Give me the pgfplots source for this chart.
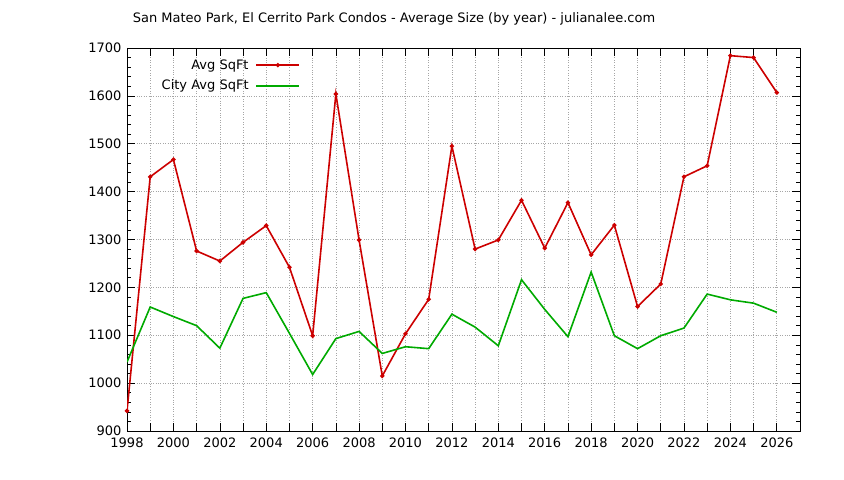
\documentclass[border=0pt]{standalone}
\usepackage{pgfplots}
\pgfplotsset{compat=1.18}
\usepackage{fontspec}
\setmainfont{DejaVu Sans}
\definecolor{cred}{RGB}{204,0,0}
\definecolor{cgreen}{RGB}{0,170,0}
\begin{document}
\fontsize{13bp}{15bp}\selectfont
\begin{tikzpicture}
\path[use as bounding box] (-127bp,-49bp) rectangle (717bp,431bp);
\begin{axis}[
  scale only axis, width=673bp, height=383bp,
  anchor=south west, at={(0,0)},
  xmin=1998, xmax=2027, ymin=900, ymax=1700,
  xtick={1998,2000,...,2026}, minor xtick={1999,2001,...,2025},
  ytick={900,1000,...,1700}, minor y tick num=4,
  tick align=inside, axis line style={line width=0.8bp},
  major tick length=8bp, minor tick length=4bp,
  every tick/.style={black, line width=0.6bp},
  x tick style={/pgfplots/minor tick length=8bp},
  xmajorgrids, ymajorgrids, xminorgrids,
  grid style={gray!70, dotted, line width=0.6bp},
  minor grid style={gray!70, dotted, line width=0.6bp},
  /pgf/number format/assume math mode=true,
  /pgf/number format/1000 sep={},
  tick label style={font=\fontsize{13bp}{15bp}\selectfont},
  xticklabel style={yshift=-2bp},
  yticklabel style={xshift=-1bp},
  legend style={draw=none, fill=none, at={(axis cs:2005.6,1685)}, anchor=north east,
    legend cell align=right, cells={anchor=east}, row sep=5bp,
    font=\fontsize{13bp}{15bp}\selectfont},
  legend plot pos=right,
  legend image code/.code={\path (0bp,0bp); \draw[#1, line width=1.6bp] (5bp,0bp) -- (48bp,0bp); \path[#1] plot coordinates {(26.5bp,0bp)};},
]
\addplot[color=cred, line width=1.6bp, mark=*, mark size=1.3bp] coordinates {
(1998,942) (1999,1431) (2000,1467) (2001,1276) (2002,1255) (2003,1294) (2004,1329)
(2005,1242) (2006,1099) (2007,1604) (2008,1299) (2009,1015) (2010,1103) (2011,1175)
(2012,1495) (2013,1280) (2014,1299) (2015,1382) (2016,1282) (2017,1377) (2018,1268)
(2019,1330) (2020,1160) (2021,1207) (2022,1431) (2023,1454) (2024,1684) (2025,1680)
(2026,1607)};
\addlegendentry{Avg SqFt}
\addplot[color=cgreen, line width=1.6bp, mark=none] coordinates {
(1998,1044) (1999,1159) (2000,1139) (2001,1120) (2002,1073) (2003,1177) (2004,1189)
(2005,1104) (2006,1018) (2007,1093) (2008,1108) (2009,1062) (2010,1076) (2011,1072)
(2012,1144) (2013,1117) (2014,1078) (2015,1216) (2016,1154) (2017,1097) (2018,1232)
(2019,1099) (2020,1072) (2021,1099) (2022,1115) (2023,1186) (2024,1174) (2025,1167)
(2026,1148)};
\addlegendentry{City Avg SqFt}
\end{axis}
\node[anchor=center] at (267bp,412bp) {San Mateo Park, El Cerrito Park Condos - Average Size (by year) - julianalee.com};
\end{tikzpicture}
\end{document}
